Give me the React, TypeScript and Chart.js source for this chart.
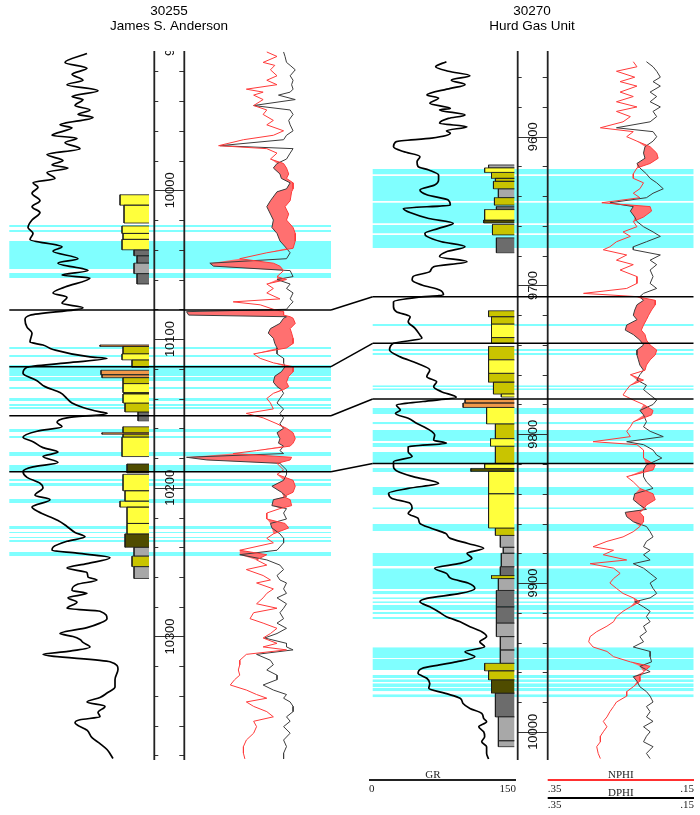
import React, { useEffect, useRef } from "react";
import { Chart, registerables } from "chart.js";

Chart.register(...registerables);

// ---------------- DATA ----------------
const WELL_IDS = ["30255", "30270"];
const WELL_NAMES = ["James S. Anderson", "Hurd Gas Unit"];

// Gamma ray [depth ft, GR API]
const LEFT_GR: [number, number][] = [
  [9908, 81], [9914, 59], [9918, 81], [9922, 66], [9926, 77], [9929, 61], [9933, 92], [9937, 66], [9939, 77], [9943, 69],
  [9946, 84], [9949, 72], [9951, 87], [9956, 54], [9958, 66], [9963, 46], [9965, 71], [9968, 59], [9972, 74], [9976, 41],
  [9980, 57], [9983, 46], [9985, 62], [9988, 41], [9992, 49], [9995, 27], [9998, 32], [10002, 26], [10007, 34], [10011, 26],
  [10015, 34], [10020, 26], [10025, 22], [10029, 27], [10033, 24], [10038, 56], [10041, 47], [10046, 72], [10049, 52], [10054, 82],
  [10057, 56], [10059, 84], [10065, 59], [10069, 47], [10072, 61], [10076, 56], [10079, 77], [10084, 24], [10087, 19], [10092, 21],
  [10096, 26], [10102, 24], [10104, 37], [10107, 47], [10112, 84], [10113, 101], [10116, 61], [10119, 21], [10123, 17], [10128, 31],
  [10132, 39], [10136, 54], [10140, 61], [10143, 66], [10146, 77], [10149, 94], [10150, 101], [10153, 61], [10156, 51], [10159, 56],
  [10162, 31], [10166, 17], [10169, 27], [10173, 37], [10176, 52], [10179, 37], [10183, 52], [10186, 27], [10189, 17], [10193, 21],
  [10197, 34], [10200, 37], [10205, 29], [10208, 44], [10213, 26], [10216, 32], [10222, 52], [10226, 61], [10230, 69], [10233, 79],
  [10236, 61], [10240, 47], [10242, 46], [10244, 71], [10247, 104], [10251, 81], [10254, 61], [10257, 81], [10260, 82], [10262, 91],
  [10265, 71], [10269, 66], [10271, 81], [10274, 62], [10277, 71], [10281, 61], [10283, 94], [10288, 101], [10291, 94], [10294, 81],
  [10298, 54], [10300, 67], [10302, 74], [10304, 77], [10307, 84], [10310, 62], [10312, 37], [10317, 104], [10322, 112], [10329, 109],
  [10334, 109], [10338, 101], [10341, 94], [10344, 81], [10347, 99], [10351, 92], [10354, 94], [10356, 74], [10358, 69], [10363, 81],
  [10368, 86], [10372, 94], [10376, 101], [10382, 107],
];

const RIGHT_GR: [number, number][] = [
  [9549.6, 79], [9553, 68], [9556, 81], [9559, 103], [9562, 84], [9565, 98], [9567.5, 83], [9572, 59], [9574, 71], [9577.6, 62],
  [9581, 83], [9582, 72], [9585.4, 98], [9587.7, 81], [9591, 72], [9593.3, 100], [9596, 79], [9597.7, 83], [9601, 64], [9603.3, 28],
  [9606.7, 25], [9610, 35], [9613.4, 52], [9616.8, 49], [9620, 50], [9622.4, 61], [9625.8, 71], [9629, 71], [9632.5, 67], [9635.8, 52],
  [9639, 59], [9642.6, 81], [9646, 83], [9648.2, 35], [9651.5, 44], [9655, 61], [9658.2, 86], [9661.6, 71], [9665, 57], [9667, 59],
  [9670.6, 74], [9674, 98], [9677.3, 79], [9680.7, 72], [9684, 100], [9687.4, 66], [9690.7, 62], [9694, 45], [9696.3, 44], [9699.7, 54],
  [9703, 72], [9706.4, 76], [9708, 49], [9711, 25], [9714.3, 25], [9717.6, 28], [9721, 42], [9724.3, 40], [9728.8, 47], [9733.3, 52],
  [9735.5, 54], [9738.9, 25], [9743.4, 21], [9748, 32], [9752.3, 49], [9756.8, 62], [9761.3, 59], [9764.7, 69], [9768, 66], [9771.4, 74],
  [9775.2, 89], [9778, 55], [9780.4, 28], [9783.7, 32], [9786, 27], [9789.3, 40], [9792.7, 49], [9797.2, 62], [9800.5, 67], [9804, 66],
  [9806, 79], [9808.4, 40], [9811.7, 40], [9815, 44], [9818.5, 25], [9821.8, 25], [9825.2, 30], [9828.5, 45], [9833, 71], [9836.4, 40],
  [9839.7, 20], [9843, 23], [9846.5, 42], [9849.8, 44], [9853.2, 40], [9856.5, 50], [9860, 52], [9863.3, 64], [9866.6, 78], [9870, 83],
  [9873.4, 101], [9876.7, 117], [9880, 100], [9883.4, 105], [9886.8, 93], [9890, 67], [9893.5, 79], [9897, 84], [9900, 101], [9903.6, 108],
  [9907, 93], [9910.3, 59], [9912.6, 52], [9916, 62], [9919.3, 71], [9922.6, 79], [9926, 93], [9929.4, 103], [9932.7, 115], [9936, 120],
  [9939.5, 113], [9942.8, 118], [9946.2, 98], [9949.5, 108], [9953, 89], [9955, 72], [9957.4, 54], [9960.7, 50], [9964, 59], [9967.5, 62],
  [9970.8, 61], [9974.2, 78], [9977.5, 93], [9981, 96], [9984.3, 103], [9987.6, 115], [9991, 117], [9993.2, 120], [9996.6, 112], [10000, 117],
  [10003.3, 118], [10006.7, 115], [10010, 120], [10014.5, 120], [10018.3, 122],
];

// Porosity [depth ft, NPHI, DPHI]
const LEFT_POR: [number, number, number][] = [
  [9907, .237, .214], [9910, .223, .212], [9914, .242, .210], [9916, .226, .205], [9919, .232, .198], [9923, .223, .205],
  [9926, .237, .201], [9929, .223, .203], [9932, .265, .201], [9934, .242, .205], [9936, .255, .221], [9939, .242, .198],
  [9943, .255, .255], [9946, .237, .205], [9949, .242, .201], [9953, .228, .207], [9956, .237, .205], [9960, .214, .201],
  [9963, .228, .210], [9966, .269, .214], [9970, .303, .301], [9972, .237, .201], [9975, .223, .205], [9979, .232, .210],
  [9982, .214, .223], [9985, .210, .228], [9989, .207, .219], [9992, .210, .217], [9995, .201, .205], [9999, .201, .210],
  [10001, .203, .223], [10007, .205, .232], [10011, .212, .237], [10016, .207, .232], [10020, .210, .228], [10025, .201, .230],
  [10029, .198, .223], [10034, .198, .219], [10039, .201, .210], [10042, .237, .205], [10046, .274, .210], [10049, .228, .315],
  [10051, .219, .310], [10054, .214, .205], [10058, .223, .201], [10060, .210, .223], [10063, .237, .205], [10066, .228, .210],
  [10069, .237, .201], [10073, .219, .205], [10075, .283, .201], [10077, .246, .205], [10080, .228, .210], [10081.6, .214, .347],
  [10083.9, .214, .344], [10085, .205, .210], [10086, .201, .214], [10089.5, .198, .219], [10093, .205, .232], [10096, .203, .235],
  [10099.5, .201, .228], [10103, .201, .226], [10106, .210, .223], [10110, .255, .223], [10113, .246, .214], [10116, .228, .214],
  [10118.6, .201, .212], [10122, .201, .217], [10125, .207, .226], [10129, .210, .228], [10132, .207, .223], [10134, .214, .217],
  [10136.5, .228, .214], [10140, .237, .219], [10143, .232, .223], [10147, .228, .214], [10150, .265, .219], [10153, .242, .214],
  [10157, .223, .219], [10160, .210, .214], [10163, .201, .223], [10167, .198, .219], [10170, .201, .221], [10172, .205, .214],
  [10175, .251, .219], [10177, .283, .214], [10179.5, .203, .347], [10181.3, .205, .319], [10183.6, .223, .219], [10188, .214, .210],
  [10191, .223, .210], [10195, .201, .214], [10199, .198, .230], [10203, .201, .217], [10206, .214, .210], [10208, .205, .228],
  [10212, .203, .230], [10214, .219, .210], [10217, .237, .214], [10221, .237, .210], [10224, .212, .232], [10227, .207, .230],
  [10231, .228, .219], [10234, .237, .214], [10237, .228, .214], [10242, .274, .223], [10245, .237, .274], [10248.5, .251, .237],
  [10252, .237, .219], [10255, .265, .214], [10259, .242, .223], [10262, .232, .219], [10264, .251, .210], [10268, .228, .214],
  [10271, .237, .210], [10274, .242, .223], [10278, .251, .210], [10281, .223, .214], [10284, .255, .219], [10288, .260, .214],
  [10291, .242, .223], [10294.5, .223, .210], [10298, .232, .223], [10301, .242, .240], [10304.6, .223, .210], [10307, .242, .210],
  [10309, .210, .201], [10312, .265, .251], [10316, .274, .232], [10319, .274, .228], [10322.5, .276, .237], [10326, .274, .223],
  [10329, .281, .223], [10332.6, .287, .242], [10336, .265, .228], [10339, .251, .210], [10341.5, .237, .214], [10344, .265, .205],
  [10347, .255, .201], [10350.5, .237, .201], [10354, .228, .210], [10357, .255, .205], [10360.6, .251, .214], [10365, .255, .205],
  [10369.6, .265, .214], [10374, .269, .210], [10378.5, .269, .214], [10382.3, .267, .214],
];

const RIGHT_POR: [number, number, number][] = [
  [9549.6, .233, .215], [9553, .228, .206], [9556, .256, .201], [9560, .231, .196], [9563, .251, .206], [9566, .228, .196],
  [9570, .251, .210], [9573, .233, .201], [9576.5, .256, .210], [9580, .228, .196], [9583, .256, .206], [9586.5, .237, .201],
  [9590, .247, .210], [9594, .278, .256], [9596.6, .233, .206], [9600, .242, .201], [9603, .228, .206], [9606.7, .210, .217],
  [9611, .201, .219], [9614.5, .199, .217], [9618, .210, .228], [9621, .228, .224], [9625, .233, .215], [9628, .233, .210],
  [9631, .219, .201], [9635, .224, .192], [9638, .233, .206], [9641, .224, .215], [9644.4, .276, .265], [9647, .210, .233],
  [9650, .208, .237], [9654, .219, .231], [9657, .233, .228], [9660.5, .228, .219], [9664, .247, .206], [9667, .237, .196],
  [9670.6, .256, .215], [9674, .265, .233], [9676, .274, .233], [9679.5, .242, .196], [9683, .256, .210], [9686, .233, .201],
  [9689.6, .251, .210], [9694, .228, .206], [9698.6, .228, .210], [9702, .242, .201], [9705.3, .301, .219], [9707.5, .228, .224],
  [9710, .203, .219], [9713, .203, .228], [9716.5, .208, .231], [9720, .212, .233], [9723, .215, .228], [9726.6, .219, .242],
  [9730, .222, .244], [9733, .217, .233], [9736.7, .215, .224], [9740, .210, .219], [9743.4, .201, .228], [9746.7, .203, .228],
  [9750, .210, .226], [9753.5, .215, .224], [9757, .217, .219], [9760, .237, .224], [9763.6, .219, .228], [9767, .237, .215],
  [9770, .242, .219], [9773.6, .247, .210], [9777, .233, .201], [9780, .219, .206], [9784, .206, .224], [9787, .208, .219],
  [9791.6, .233, .215], [9795, .237, .219], [9798, .242, .210], [9801.6, .237, .192], [9805, .288, .242], [9807, .228, .219],
  [9810.6, .219, .206], [9814, .219, .201], [9816, .219, .194], [9820.7, .203, .215], [9824, .206, .219], [9828.5, .242, .219],
  [9832, .233, .215], [9836.4, .224, .206], [9840, .206, .231], [9844, .203, .233], [9847.6, .215, .224], [9850.5, .219, .215],
  [9852.5, .224, .244], [9855.4, .219, .242], [9858.8, .219, .233], [9862, .224, .215], [9865.5, .233, .210], [9869, .247, .206],
  [9872, .269, .215], [9875.6, .288, .219], [9878, .260, .210], [9881, .274, .219], [9884.5, .242, .210], [9887, .292, .233],
  [9890, .260, .219], [9893.5, .251, .210], [9897, .260, .201], [9900, .265, .210], [9903.6, .256, .206], [9907, .247, .201],
  [9910, .233, .210], [9912.6, .224, .231], [9916, .237, .219], [9919, .247, .210], [9922.6, .256, .215], [9926, .260, .210],
  [9929, .269, .219], [9932.7, .283, .215], [9936, .292, .224], [9939.5, .294, .219], [9943, .288, .233], [9946, .269, .210],
  [9949.5, .260, .210], [9953, .237, .208], [9956, .210, .224], [9959.6, .219, .210], [9963, .224, .233], [9966, .224, .228],
  [9969.7, .233, .224], [9973, .242, .215], [9976, .242, .210], [9980, .256, .206], [9983, .260, .215], [9986.5, .265, .210],
  [9990, .269, .215], [9993, .274, .206], [9996.6, .269, .219], [10000, .274, .210], [10003, .278, .215], [10006.7, .278, .219],
  [10010, .283, .206], [10014.5, .281, .215], [10018, .278, .210],
];

// Lithology column [top, base, GR cut-off edge, class]
const LEFT_LITH: [number, number, number, string][] = [
  [10003, 10010, 114, "Y"], [10010, 10022, 118, "Y"], [10024, 10029, 116, "Y"], [10029, 10033, 117, "Y"], [10033, 10040, 116, "Y"],
  [10040, 10044, 128, "D"], [10044, 10049, 131, "D"], [10049, 10056, 128, "G"], [10056, 10063, 131, "D"],
  [10104, 10105, 94, "R"], [10105, 10110, 117, "O"], [10110, 10114, 116, "Y"], [10114, 10119, 126, "O"], [10121, 10124, 95, "R"],
  [10124, 10126, 96, "R"], [10126, 10130, 117, "O"], [10130, 10136, 117, "Y"], [10136, 10137, 118, "K"], [10137, 10143, 117, "Y"],
  [10143, 10149, 119, "O"], [10149, 10155, 132, "D"], [10159, 10163, 117, "O"], [10163, 10164, 96, "R"], [10164, 10166, 117, "O"],
  [10166, 10179, 116, "Y"], [10184, 10190, 121, "K"], [10191, 10202, 117, "Y"], [10202, 10209, 119, "Y"], [10209, 10213, 114, "Y"],
  [10213, 10224, 121, "Y"], [10224, 10231, 121, "Y"], [10231, 10240, 119, "K"], [10240, 10246, 128, "G"], [10246, 10253, 126, "O"],
  [10253, 10261, 128, "G"],
];

const RIGHT_LITH: [number, number, number, string][] = [
  [9619, 9621, 122, "G"], [9621, 9624, 118, "Y"], [9624, 9628, 125, "O"], [9628, 9630, 129, "O"], [9630, 9635, 127, "O"],
  [9635, 9641, 132, "G"], [9641, 9646, 128, "O"], [9647, 9649, 130, "D"], [9649, 9656, 118, "Y"], [9656, 9658, 117, "K"],
  [9659, 9666, 126, "O"], [9668, 9678, 130, "D"],
  [9717, 9721, 122, "O"], [9721, 9726, 125, "O"], [9726, 9735, 125, "Y"], [9735, 9739, 125, "O"], [9741, 9750, 122, "O"],
  [9750, 9759, 122, "Y"], [9759, 9765, 122, "O"], [9765, 9773, 127, "O"], [9773, 9775, 135, "Y"], [9776.5, 9779, 98, "R"],
  [9779, 9782, 96, "R"], [9782, 9793, 120, "Y"], [9793, 9803, 129, "O"], [9803, 9808, 124, "Y"], [9808, 9820, 129, "O"],
  [9820, 9823, 118, "Y"], [9823, 9825, 104, "K"], [9825, 9840, 122, "Y"], [9840, 9863, 122, "Y"], [9863, 9868, 129, "O"],
  [9868, 9876, 134, "G"], [9876, 9880, 137, "G"], [9880, 9889, 135, "G"], [9889, 9895, 134, "D"], [9895, 9897, 125, "O"],
  [9897, 9905, 132, "G"], [9905, 9916, 130, "D"], [9916, 9927, 130, "D"], [9927, 9936, 130, "G"], [9936, 9945, 134, "G"],
  [9945, 9954, 134, "G"], [9954, 9959, 118, "O"], [9959, 9965, 122, "O"], [9965, 9974, 125, "K"], [9974, 9990, 129, "D"],
  [9990, 10006, 132, "G"], [10006, 10010, 132, "G"],
];

// Shaded pay intervals [top, base]
const LEFT_BANDS: [number, number][] = [
  [10023.4, 10024.7], [10026.7, 10028.1], [10034.1, 10052.9], [10055.6, 10059], [10105.4, 10106.7], [10110.8, 10112.1],
  [10117.5, 10124.9], [10125.6, 10128.2], [10132.3, 10133.6], [10139.7, 10141.7], [10143.7, 10145.1], [10145.7, 10147.1],
  [10160.5, 10162.5], [10165.2, 10166.6], [10176, 10178.7], [10184.7, 10189.4], [10194.1, 10195.5], [10196.8, 10198.8],
  [10207.6, 10210.3], [10225.7, 10227.7], [10229.8, 10230.4], [10233.1, 10233.8], [10235.1, 10236.5], [10243.2, 10245.9],
];

const RIGHT_BANDS: [number, number][] = [
  [9621.7, 9625.4], [9626.4, 9643.2], [9644.2, 9658.4], [9659.4, 9665.1], [9666.1, 9674.8], [9725.9, 9727.3],
  [9742.7, 9744.1], [9745.4, 9746.8], [9767, 9768.3], [9769, 9770.3], [9782.4, 9786.4], [9791.8, 9793.2],
  [9797.2, 9804.6], [9805.9, 9808.6], [9812, 9819.4], [9822.7, 9825.4], [9835.5, 9840.9], [9849, 9850.3],
  [9860.4, 9865.1], [9879.9, 9888.6], [9890, 9904.1], [9905.4, 9907.5], [9909.5, 9910.8], [9912.2, 9913.5],
  [9914.8, 9918.2], [9919.5, 9920.9], [9922.9, 9924.2], [9943.1, 9950.5], [9951.1, 9958.5], [9961.9, 9963.9],
  [9964.6, 9966.6], [9967.3, 9970], [9970.6, 9972.7], [9974.7, 9976.7],
];

// Correlation picks (same horizon order in both wells)
const LEFT_PICKS = [10080.5, 10118.6, 10151.6, 10189.2];
const RIGHT_PICKS = [9707.6, 9738.9, 9776.3, 9819.6];

// Depth axis
const DEPTH_TICK_STEP = 20;
const DEPTH_LABEL_STEP = 100;

// Scale legend
const GR_SCALE = [0, 150];
const POR_SCALE = [0.35, 0.15];
const GR_LABELS = ["0", "150"];
const POR_LABELS = [".35", ".15"];

// ---------------- LAYOUT / STYLE ----------------
const W = 700;
const H = 815;
const PLOT = { left: 4, right: 697, top: 51, bottom: 760 };
const WELLS = [
  {
    gr: [6, 156], por: [184.3, 330.3], depthLines: [154.3, 184.3], frame: [9.3, 331], lithEdge: 149,
    depthAnchor: [[10000, 190.3], [10300, 636.5]], titleX: 169,
    gr_: LEFT_GR, por_: LEFT_POR, lith: LEFT_LITH, bands: LEFT_BANDS, picks: LEFT_PICKS,
  },
  {
    gr: [369, 516], por: [547.7, 694], depthLines: [517.7, 547.7], frame: [372.7, 693.5], lithEdge: 514.3,
    depthAnchor: [[9600, 136.7], [10000, 731.8]], titleX: 532,
    gr_: RIGHT_GR, por_: RIGHT_POR, lith: RIGHT_LITH, bands: RIGHT_BANDS, picks: RIGHT_PICKS,
  },
];
const LITH_COLORS: Record<string, string> = {
  Y: "#ffff3c", O: "#c9c400", K: "#4f4c00", G: "#a8a8a8", D: "#6c6c6c", R: "#f0984a",
};
const CYAN = "#80ffff";
const FILL_RED = "#ff7070";
const SANS = '"Liberation Sans", Arial, sans-serif';
const SERIF = '"Liberation Serif", "Times New Roman", serif';

function fitH(v0: number, p0: number, v1: number, p1: number) {
  const k = (p1 - p0) / (v1 - v0);
  const a = v0 + (PLOT.left - p0) / k;
  const b = v0 + (PLOT.right - p0) / k;
  return a < b ? { min: a, max: b, reverse: false } : { min: b, max: a, reverse: true };
}
function fitV(v0: number, p0: number, v1: number, p1: number) {
  const k = (p1 - p0) / (v1 - v0);
  const a = v0 + (PLOT.top - p0) / k;
  const b = v0 + (PLOT.bottom - p0) / k;
  return a < b ? { min: a, max: b, reverse: true } : { min: b, max: a, reverse: false };
}
function valueAtPixel(v0: number, p0: number, v1: number, p1: number, p: number) {
  return v0 + ((p - p0) * (v1 - v0)) / (p1 - p0);
}

function buildConfig() {
  const scales: Record<string, any> = {};
  const datasets: any[] = [];
  WELLS.forEach((w, i) => {
    const base = { type: "linear", display: false, bounds: "data", grace: 0 };
    scales["y" + i] = { ...base, axis: "y", ...fitV(w.depthAnchor[0][0], w.depthAnchor[0][1], w.depthAnchor[1][0], w.depthAnchor[1][1]) };
    scales["xG" + i] = { ...base, axis: "x", ...fitH(GR_SCALE[0], w.gr[0], GR_SCALE[1], w.gr[1]) };
    scales["xP" + i] = { ...base, axis: "x", ...fitH(POR_SCALE[0], w.por[0], POR_SCALE[1], w.por[1]) };
    scales["xF" + i] = { ...base, axis: "x", ...fitH(0, w.frame[0], 1, w.frame[1]) };
    const yId = "y" + i;

    // pay bands
    const bandPts: any[] = [];
    w.bands.forEach(([t, b]) => {
      bandPts.push({ x: 1, y: t }, { x: 1, y: b }, { x: null, y: b });
    });
    datasets.push({
      data: bandPts, xAxisID: "xF" + i, yAxisID: yId, borderWidth: 0, borderColor: "rgba(0,0,0,0)",
      backgroundColor: CYAN, fill: { value: 0 }, pointRadius: 0, order: 10, spanGaps: false,
    });

    // lithology
    const lithBase = valueAtPixel(GR_SCALE[0], w.gr[0], GR_SCALE[1], w.gr[1], w.lithEdge);
    Object.keys(LITH_COLORS).forEach((cls) => {
      const pts: any[] = [];
      w.lith.filter((r) => r[3] === cls).forEach(([t, b, v]) => {
        pts.push({ x: lithBase, y: t }, { x: v, y: t }, { x: v, y: b }, { x: lithBase, y: b }, { x: null, y: b });
      });
      if (!pts.length) return;
      datasets.push({
        data: pts, xAxisID: "xG" + i, yAxisID: yId, borderWidth: 0.8, borderColor: "#1a1a1a",
        backgroundColor: LITH_COLORS[cls], fill: { value: lithBase }, pointRadius: 0, order: 8, spanGaps: false,
      });
    });

    // porosity
    const nIndex = datasets.length;
    datasets.push({
      data: w.por_.map(([d, n]) => ({ x: n, y: d })), xAxisID: "xP" + i, yAxisID: yId,
      borderColor: "#ff3a3a", borderWidth: 1, pointRadius: 0, fill: false, order: 2,
    });
    datasets.push({
      data: w.por_.map(([d, , dp]) => ({ x: dp, y: d })), xAxisID: "xP" + i, yAxisID: yId,
      borderColor: "#3c3c3c", borderWidth: 1, pointRadius: 0, fill: false, order: 3,
    });
    // crossover (DPHI > NPHI) shading
    datasets.push({
      data: w.por_.map(([d, n, dp]) => ({ x: dp > n ? dp : n, y: d })), xAxisID: "xP" + i, yAxisID: yId,
      borderWidth: 0, borderColor: "rgba(0,0,0,0)", backgroundColor: FILL_RED, pointRadius: 0,
      fill: nIndex, order: 6,
    });

    // gamma ray
    datasets.push({
      data: w.gr_.map(([d, g]) => ({ x: g, y: d })), xAxisID: "xG" + i, yAxisID: yId,
      borderColor: "#000", borderWidth: 1.7, pointRadius: 0, fill: false, order: 1,
      cubicInterpolationMode: "monotone",
    });
  });
  return { scales, datasets };
}

const decorPlugin = {
  id: "wellDecor",
  afterDatasetsDraw(chart: any) {
    const ctx: CanvasRenderingContext2D = chart.ctx;
    const area = chart.chartArea;
    ctx.save();

    WELLS.forEach((w, i) => {
      const y = chart.scales["y" + i];
      const [xa, xb] = w.depthLines;
      // ticks
      ctx.save();
      ctx.beginPath();
      ctx.rect(area.left, area.top, area.right - area.left, area.bottom - area.top);
      ctx.clip();
      ctx.strokeStyle = "#333";
      ctx.lineWidth = 1;
      const start = Math.ceil(y.min / DEPTH_TICK_STEP) * DEPTH_TICK_STEP;
      for (let d = start; d <= y.max; d += DEPTH_TICK_STEP) {
        const py = Math.round(y.getPixelForValue(d)) + 0.5;
        ctx.beginPath();
        if (d % DEPTH_LABEL_STEP === 0) {
          ctx.moveTo(xa, py); ctx.lineTo(xb, py);
        } else {
          ctx.moveTo(xa, py); ctx.lineTo(xa + 4, py);
          ctx.moveTo(xb - 5, py); ctx.lineTo(xb, py);
        }
        ctx.stroke();
      }
      // labels
      ctx.fillStyle = "#111";
      ctx.font = "13px " + SANS;
      ctx.textAlign = "center";
      ctx.textBaseline = "middle";
      const lstart = Math.floor(y.min / DEPTH_LABEL_STEP) * DEPTH_LABEL_STEP;
      for (let d = lstart; d <= y.max + DEPTH_LABEL_STEP; d += DEPTH_LABEL_STEP) {
        const py = y.getPixelForValue(d);
        ctx.save();
        ctx.translate((xa + xb) / 2 + 1, py);
        ctx.rotate(-Math.PI / 2);
        ctx.fillText(String(d), 0, 0);
        ctx.restore();
      }
      ctx.restore();
      // track lines
      ctx.strokeStyle = "#222";
      ctx.lineWidth = 1.8;
      [xa, xb].forEach((x) => {
        ctx.beginPath(); ctx.moveTo(x, area.top); ctx.lineTo(x, area.bottom); ctx.stroke();
      });

      // pick lines
      const xF = chart.scales["xF" + i];
      ctx.strokeStyle = "#000";
      ctx.lineWidth = 1.5;
      w.picks.forEach((p) => {
        const py = y.getPixelForValue(p);
        ctx.beginPath();
        ctx.moveTo(xF.getPixelForValue(0), py);
        ctx.lineTo(xF.getPixelForValue(1), py);
        ctx.stroke();
      });

      // titles
      ctx.fillStyle = "#000";
      ctx.font = "13.5px " + SANS;
      ctx.textAlign = "center";
      ctx.textBaseline = "alphabetic";
      ctx.fillText(WELL_IDS[i], w.titleX, 15);
      ctx.fillText(WELL_NAMES[i], w.titleX, 30);
    });

    // connectors between wells
    const yL = chart.scales.y0, yR = chart.scales.y1;
    const xL = chart.scales.xF0.getPixelForValue(1);
    const xR = chart.scales.xF1.getPixelForValue(0);
    ctx.strokeStyle = "#000";
    ctx.lineWidth = 1.5;
    LEFT_PICKS.forEach((p, k) => {
      ctx.beginPath();
      ctx.moveTo(xL, yL.getPixelForValue(p));
      ctx.lineTo(xR, yR.getPixelForValue(RIGHT_PICKS[k]));
      ctx.stroke();
    });

    // scale legend (right well)
    const xG = chart.scales.xG1, xP = chart.scales.xP1;
    const g0 = xG.getPixelForValue(GR_SCALE[0]), g1 = xG.getPixelForValue(GR_SCALE[1]);
    const p0 = xP.getPixelForValue(POR_SCALE[0]), p1 = xP.getPixelForValue(POR_SCALE[1]);
    ctx.lineWidth = 2;
    ctx.strokeStyle = "#222";
    ctx.beginPath(); ctx.moveTo(g0, 780); ctx.lineTo(g1, 780); ctx.stroke();
    ctx.strokeStyle = "#ff3030";
    ctx.beginPath(); ctx.moveTo(p0, 780); ctx.lineTo(p1, 780); ctx.stroke();
    ctx.strokeStyle = "#000";
    ctx.beginPath(); ctx.moveTo(p0, 798); ctx.lineTo(p1, 798); ctx.stroke();

    ctx.fillStyle = "#222";
    ctx.font = "11px " + SERIF;
    ctx.textBaseline = "alphabetic";
    ctx.textAlign = "center";
    ctx.fillText("GR", 433, 778);
    ctx.fillText("NPHI", (p0 + p1) / 2, 778);
    ctx.fillText("DPHI", (p0 + p1) / 2, 796);
    ctx.textAlign = "left";
    ctx.fillText(GR_LABELS[0], g0, 792);
    ctx.fillText(POR_LABELS[0], p0, 792);
    ctx.fillText(POR_LABELS[0], p0, 808);
    ctx.textAlign = "right";
    ctx.fillText(GR_LABELS[1], g1, 792);
    ctx.fillText(POR_LABELS[1], p1, 792);
    ctx.fillText(POR_LABELS[1], p1, 808);

    ctx.restore();
  },
};

export default function App() {
  const ref = useRef<HTMLCanvasElement | null>(null);
  useEffect(() => {
    if (!ref.current) return;
    const { scales, datasets } = buildConfig();
    const chart = new Chart(ref.current, {
      type: "line",
      data: { datasets },
      options: {
        animation: false,
        responsive: false,
        maintainAspectRatio: false,
        indexAxis: "y",
        events: [],
        layout: { padding: { left: PLOT.left, right: W - PLOT.right, top: PLOT.top, bottom: H - PLOT.bottom } },
        plugins: { legend: { display: false }, tooltip: { enabled: false }, title: { display: false } },
        elements: { point: { radius: 0 }, line: { tension: 0 } },
        scales,
      } as any,
      plugins: [decorPlugin],
    });
    return () => chart.destroy();
  }, []);
  return (
    <div style={{ position: "absolute", left: 0, top: 0, width: W, height: H, background: "#fff" }}>
      <canvas ref={ref} width={W} height={H} style={{ width: W, height: H, display: "block" }} />
    </div>
  );
}
